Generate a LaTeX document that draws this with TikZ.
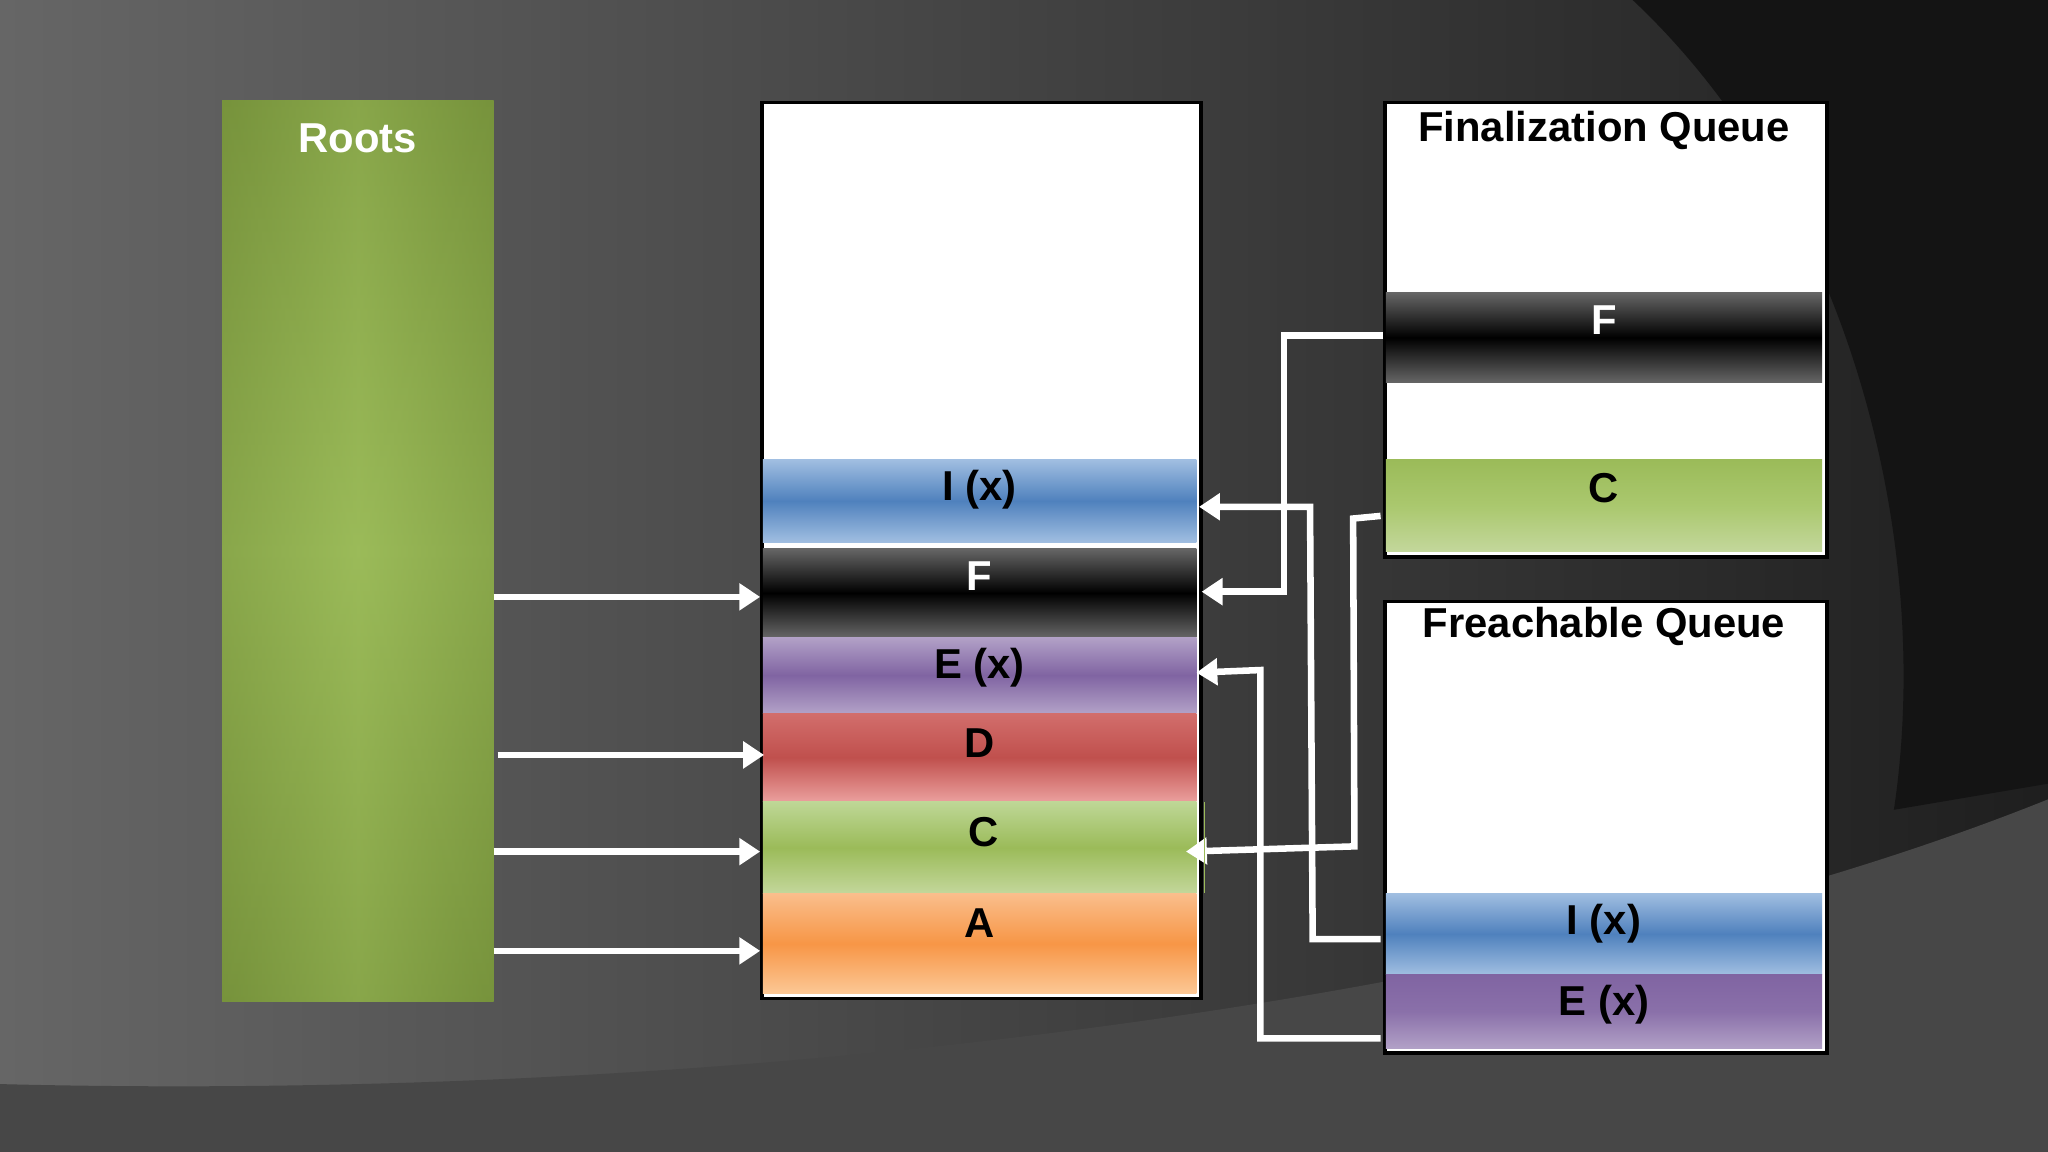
\documentclass[tikz,border=0pt]{standalone}
\usepackage{fontspec}
\setmainfont{Liberation Sans}
\usetikzlibrary{arrows.meta}
\definecolor{rootc}{RGB}{119,147,60}
\definecolor{rootl}{RGB}{155,187,89}
\definecolor{blu}{RGB}{79,129,189}
\definecolor{blul}{RGB}{160,190,225}
\definecolor{pur}{RGB}{128,100,162}
\definecolor{purl}{RGB}{178,161,199}
\begin{document}
\begin{tikzpicture}[x=1pt,y=-1pt,
  lbl/.style={font=\bfseries\fontsize{32}{32}\selectfont},
  ttl/.style={font=\bfseries\fontsize{32}{32}\selectfont},
  arr/.style={draw=white,line width=5pt,-{Triangle[length=16pt,width=20pt]}}]
\useasboundingbox (0,0) rectangle (1568,882);
% background
\shade[left color=black!60,right color=black!88] (0,0) rectangle (1568,882);
\fill[black!92] (1250,0) .. controls (1420,160) and (1480,420) .. (1450,620) -- (1568,600) -- (1568,0) -- cycle;
\fill[black!72] (0,830) .. controls (600,845) and (1200,760) .. (1568,612) -- (1568,882) -- (0,882) -- cycle;
% roots
\shade[left color=rootc,right color=rootc,middle color=rootl] (170,77) rectangle (378,767);
\shade[top color=rootc,bottom color=rootc,middle color=rootl,opacity=0.5] (170,77) rectangle (378,767);
\node[ttl,text=white] (roots) at (274,106) {Roots};
% heap
\node[draw=black,line width=3pt,fill=white,minimum width=336pt,minimum height=686pt,anchor=north west,inner sep=0] (heap) at (582,77) {};
\shade[top color=blul,bottom color=blul,middle color=blu] (584,352) rectangle (916,415);
\shade[top color=black!60,bottom color=black!60,middle color=black] (584,420) rectangle (916,488);
\shade[top color=purl,bottom color=purl,middle color=pur] (584,488) rectangle (916,546);
\shade[top color={rgb,255:red,210;green,110;blue,108},bottom color={rgb,255:red,235;green,160;blue,158},middle color={rgb,255:red,192;green,80;blue,77}] (584,546) rectangle (916,614);
\shade[top color={rgb,255:red,190;green,215;blue,150},bottom color={rgb,255:red,195;green,215;blue,155},middle color={rgb,255:red,155;green,187;blue,89}] (584,614) rectangle (916,684);
\shade[top color={rgb,255:red,250;green,190;blue,140},bottom color={rgb,255:red,252;green,200;blue,150},middle color={rgb,255:red,247;green,150;blue,70}] (584,684) rectangle (916,761);
\node[lbl] (hI) at (750,375) {I (x)};
\node[lbl,text=white] (hF) at (750,441) {F};
\node[lbl] (hE) at (750,511) {E (x)};
\node[lbl] (hD) at (750,569) {D};
\node[lbl] (hC) at (753,637) {C};
\node[lbl] (hA) at (750,707) {A};
\coordinate (hIin) at (918,388);
\coordinate (hFin) at (920,453);
\coordinate (hEin) at (916,515);
\coordinate (hCin) at (908,652);
% finalization queue
\node[draw=black,line width=3pt,fill=white,minimum width=338pt,minimum height=348pt,anchor=north west,inner sep=0] (fq) at (1059,77) {};
\node[ttl] (fqt) at (1228,100) {Finalization Queue};
\shade[top color=black!60,bottom color=black!60,middle color=black] (1061,224) rectangle (1395,293);
\shade[top color=rootl,bottom color={rgb,255:red,195;green,215;blue,155},middle color={rgb,255:red,170;green,200;blue,110}] (1061,352) rectangle (1395,422);
\node[lbl,text=white] (fF) at (1228,245) {F};
\node[lbl] (fC) at (1228,374) {C};
% freachable
\node[draw=black,line width=3pt,fill=white,minimum width=338pt,minimum height=346pt,anchor=north west,inner sep=0] (rq) at (1059,459) {};
\node[ttl] (rqt) at (1228,480) {Freachable Queue};
\shade[top color=blul,bottom color=blul,middle color=blu] (1061,684) rectangle (1395,746);
\shade[top color=pur,bottom color=purl,middle color=pur!80!purl] (1061,746) rectangle (1395,803);
\node[lbl] (rI) at (1228,707) {I (x)};
\node[lbl] (rE) at (1228,769) {E (x)};
% roots arrows
\coordinate (r1) at (378,457); \coordinate (h1) at (582,457);
\coordinate (r2) at (381,578); \coordinate (h2) at (585,578);
\coordinate (r3) at (378,652); \coordinate (h3) at (582,652);
\coordinate (r4) at (378,728); \coordinate (h4) at (582,728);
\draw[arr] (r1) -- (h1);
\draw[arr] (r2) -- (h2);
\draw[arr] (r3) -- (h3);
\draw[arr] (r4) -- (h4);
% queue arrows
\coordinate (fFo) at (1059,257);
\coordinate (fCo) at (1057,395);
\coordinate (rIo) at (1057,719);
\coordinate (rEo) at (1057,795);
\draw[arr] (fFo) -- (983,257) -- (983,453) -- (hFin);
\draw[arr] (fCo) -- (1036,397) -- (1037,648) -- (hCin);
\draw[arr] (rIo) -- (1005,719) -- (1003,388) -- (hIin);
\draw[arr] (rEo) -- (965,795) -- (965,513) -- (hEin);
\draw[rootl,line width=1pt] (922,614) -- (922,684);
\end{tikzpicture}
\end{document}
